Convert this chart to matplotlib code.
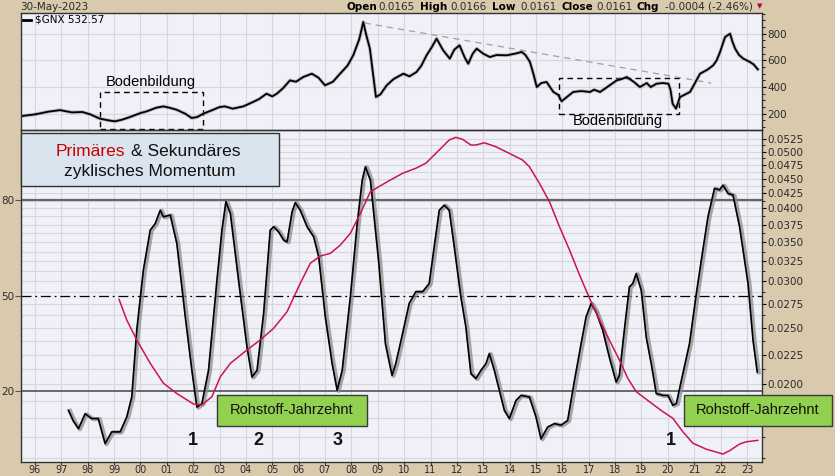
import numpy as np
import matplotlib
matplotlib.use("Agg")
import matplotlib.pyplot as plt
from matplotlib.patches import Rectangle
from matplotlib.lines import Line2D
from matplotlib.transforms import offset_copy
from matplotlib.ticker import FixedLocator, FuncFormatter

plt.rcParams['font.family'] = ['Liberation Sans', 'DejaVu Sans']

# --- data ---
gnx_years = [1995.47, 1996.0, 1996.5, 1996.95, 1997.4, 1997.8, 1998.1, 1998.46, 1998.8, 1999.03,
             1999.3, 1999.6, 2000.0, 2000.24, 2000.6, 2000.87, 2001.1, 2001.37, 2001.7, 2001.94,
             2002.15, 2002.38, 2002.7, 2003.0, 2003.2, 2003.5, 2003.9, 2004.27, 2004.5, 2004.78,
             2005.0, 2005.17, 2005.4, 2005.67, 2005.9, 2006.17, 2006.5, 2006.75, 2007.0, 2007.3,
             2007.57, 2007.85, 2008.07, 2008.3, 2008.45, 2008.55, 2008.7, 2008.93, 2009.1, 2009.34,
             2009.6, 2009.97, 2010.2, 2010.47, 2010.65, 2010.85, 2011.05, 2011.23, 2011.48, 2011.73,
             2011.9, 2012.1, 2012.3, 2012.43, 2012.6, 2012.75, 2013.0, 2013.25, 2013.5, 2013.89,
             2014.2, 2014.46, 2014.6, 2014.77, 2014.9, 2015.03, 2015.2, 2015.4, 2015.66, 2015.85,
             2015.97, 2016.2, 2016.41, 2016.7, 2017.05, 2017.2, 2017.43, 2017.7, 2018.06, 2018.25,
             2018.44, 2018.7, 2018.94, 2019.2, 2019.35, 2019.57, 2019.8, 2020.02, 2020.1, 2020.18,
             2020.31, 2020.46, 2020.84, 2021.0, 2021.22, 2021.5, 2021.72, 2021.85, 2021.98, 2022.17,
             2022.36, 2022.45, 2022.55, 2022.7, 2022.86, 2023.11, 2023.25, 2023.41]
gnx_vals = [182, 195, 215, 227, 210, 213, 195, 163, 150, 143,
            155, 175, 205, 218, 245, 255, 245, 230, 200, 168,
            175, 200, 225, 250, 255, 238, 255, 288, 310, 350,
            330, 350, 390, 450, 440, 475, 500, 470, 413, 440,
            500, 560, 638, 760, 888, 800, 688, 325, 345, 413,
            460, 500, 480, 513, 560, 638, 700, 763, 675, 613,
            680, 713, 620, 575, 650, 688, 650, 625, 640, 638,
            650, 663, 640, 588, 500, 400, 430, 438, 363, 340,
            293, 330, 363, 370, 363, 380, 363, 400, 450, 460,
            475, 440, 400, 430, 400, 425, 430, 425, 380, 275,
            238, 325, 363, 420, 500, 530, 563, 600, 663, 775,
            800, 740, 688, 640, 613, 588, 570, 533]

osc_years = [1997.27, 1997.45, 1997.65, 1997.9, 1998.15, 1998.4, 1998.66, 1998.91, 1999.23, 1999.48,
             1999.67, 1999.86, 2000.11, 2000.37, 2000.56, 2000.75, 2000.87, 2001.13, 2001.38, 2001.7,
             2001.95, 2002.14, 2002.33, 2002.58, 2002.9, 2003.09, 2003.24, 2003.41, 2003.72, 2004.04,
             2004.23, 2004.42, 2004.67, 2004.92, 2005.05, 2005.24, 2005.43, 2005.56, 2005.75, 2005.87,
             2006.06, 2006.32, 2006.57, 2006.76, 2007.01, 2007.27, 2007.46, 2007.65, 2007.96, 2008.22,
             2008.41, 2008.53, 2008.72, 2009.04, 2009.29, 2009.54, 2009.68, 2009.94, 2010.19, 2010.44,
             2010.7, 2010.95, 2011.14, 2011.33, 2011.52, 2011.71, 2011.9, 2012.15, 2012.34, 2012.53,
             2012.72, 2012.91, 2013.1, 2013.23, 2013.42, 2013.61, 2013.8, 2013.99, 2014.24, 2014.43,
             2014.75, 2015.0, 2015.19, 2015.44, 2015.7, 2015.95, 2016.2, 2016.46, 2016.71, 2016.9,
             2017.09, 2017.28, 2017.53, 2017.78, 2018.04, 2018.16, 2018.35, 2018.54, 2018.67, 2018.8,
             2018.99, 2019.18, 2019.37, 2019.56, 2019.81, 2020.0, 2020.19, 2020.32, 2020.57, 2020.82,
             2021.08, 2021.27, 2021.52, 2021.77, 2021.96, 2022.09, 2022.28, 2022.47, 2022.72, 2023.04,
             2023.23, 2023.39]
osc_vals = [13.8, 10.5, 8.0, 12.7, 11.2, 11.2, 3.3, 7.0, 7.0, 11.7,
            18.0, 39.1, 58.0, 70.6, 72.7, 76.9, 74.8, 75.4, 66.4, 43.3,
            26.4, 14.8, 15.9, 26.4, 54.8, 70.6, 79.6, 75.9, 54.8, 33.8,
            24.3, 26.4, 44.3, 70.6, 71.7, 70.1, 67.5, 66.9, 76.4, 79.3,
            76.9, 71.7, 68.5, 62.2, 43.3, 28.5, 20.1, 26.4, 49.6, 72.7,
            86.4, 90.6, 86.4, 60.1, 34.8, 24.8, 28.5, 38.0, 47.5, 51.2,
            51.2, 53.8, 65.4, 76.9, 78.5, 76.9, 65.4, 49.6, 40.1, 25.4,
            23.8, 26.4, 28.5, 31.7, 26.4, 20.1, 13.8, 11.2, 16.9, 18.5,
            18.0, 11.7, 4.8, 8.5, 9.6, 9.1, 10.6, 23.3, 34.8, 43.3,
            47.5, 44.8, 39.1, 30.6, 22.7, 24.8, 39.1, 52.7, 53.8, 56.9,
            51.7, 36.9, 28.5, 19.1, 18.5, 18.5, 15.4, 15.9, 25.4, 34.8,
            50.6, 61.2, 74.8, 83.8, 83.3, 84.8, 82.2, 81.7, 71.7, 53.8,
            35.9, 25.9]

prim_years = [1999.19, 1999.48, 1999.86, 2000.37, 2000.87, 2001.38, 2002.01, 2002.33, 2002.71, 2003.03,
              2003.41, 2004.04, 2004.54, 2005.05, 2005.56, 2006.06, 2006.44, 2006.82, 2007.2, 2007.58,
              2007.96, 2008.34, 2008.72, 2009.04, 2009.48, 2009.94, 2010.44, 2010.82, 2011.33, 2011.71,
              2011.96, 2012.22, 2012.53, 2012.72, 2013.04, 2013.48, 2013.99, 2014.49, 2014.75, 2015.13,
              2015.51, 2015.89, 2016.27, 2016.65, 2017.03, 2017.41, 2017.78, 2018.16, 2018.48, 2018.8,
              2019.3, 2019.81, 2020.19, 2020.57, 2020.95, 2021.46, 2022.09, 2022.34, 2022.72, 2022.97,
              2023.41]
prim_vals = [0.02796, 0.02578, 0.02383, 0.02174, 0.0201, 0.0193, 0.01852, 0.01845, 0.01906, 0.02062,
             0.02174, 0.02291, 0.02383, 0.02495, 0.02664, 0.02979, 0.03223, 0.03317, 0.03351, 0.03463,
             0.03626, 0.03924, 0.04272, 0.04358, 0.04474, 0.04593, 0.04685, 0.04778, 0.05034, 0.05238,
             0.05292, 0.0525, 0.05134, 0.05134, 0.0518, 0.05099, 0.04968, 0.0484, 0.04713, 0.04416,
             0.04108, 0.03722, 0.03397, 0.03078, 0.02808, 0.02578, 0.02383, 0.02203, 0.0205, 0.01944,
             0.01869, 0.01797, 0.01751, 0.0166, 0.01587, 0.0155, 0.01521, 0.01541, 0.01582, 0.01596,
             0.01605]

year_ticks = list(range(1996, 2024))
year_labels = ['%02d' % (y % 100) for y in year_ticks]
gnx_ticks = [200, 400, 600, 800]
osc_levels = [20, 50, 80]
prim_ticks = [0.0200, 0.0225, 0.0250, 0.0275, 0.0300, 0.0325, 0.0350, 0.0375,
              0.0400, 0.0425, 0.0450, 0.0475, 0.0500, 0.0525]

W, H = 835, 476
BG = '#d9caae'
PANEL = '#eff0f8'
GRID = '#d6d6dc'
TXT = '#2a2a2a'

def fx(px):
    return px / W

def fy(py):
    return 1 - py / H

fig = plt.figure(figsize=(W / 100, H / 100), dpi=100, facecolor=BG)

xl = (1995.47, 2023.57)

# ---- top panel: $GNX ----
ax1 = fig.add_axes([fx(21), fy(130), fx(762) - fx(21), fy(13) - fy(130)], facecolor=PANEL)
ax1.set_xlim(*xl)
ax1.set_ylim(78, 955)
ax1.set_xticks(year_ticks)
ax1.set_xticklabels([])
ax1.tick_params(axis='x', length=0)
ax1.yaxis.tick_right()
ax1.set_yticks(gnx_ticks)
ax1.set_yticklabels([str(v) for v in gnx_ticks], fontsize=7.5, color=TXT, family='DejaVu Sans')
ax1.yaxis.set_minor_locator(FixedLocator(list(range(100, 1000, 50))))
ax1.tick_params(axis='y', which='major', length=3, pad=1, direction='out')
ax1.tick_params(axis='y', which='minor', length=2, direction='out')
ax1.grid(True, color=GRID, lw=0.8)
ax1.set_axisbelow(True)
for s in ax1.spines.values():
    s.set_color('#333333')
    s.set_linewidth(1.0)

ax1.plot(gnx_years, gnx_vals, color='#8a8a8a', lw=2.6, alpha=0.5, solid_joinstyle='round')
ax1.plot(gnx_years, gnx_vals, color='black', lw=1.3, solid_joinstyle='round')
# falling trend line
ax1.plot([2008.5, 2021.64], [880, 430], color='#a0a0a0', lw=0.9, ls=(0, (5, 4)))
# Bodenbildung boxes
ax1.add_patch(Rectangle((1998.46, 85), 2002.38 - 1998.46, 363 - 85, fill=False,
                        ls=(0, (4, 3)), lw=1.0, ec='black'))
ax1.text(2000.4, 440, 'Bodenbildung', ha='center', va='center', fontsize=10.5, color='black')
ax1.add_patch(Rectangle((2015.88, 200), 2020.41 - 2015.88, 468 - 200, fill=False,
                        ls=(0, (4, 3)), lw=1.0, ec='black'))
ax1.text(2018.1, 148, 'Bodenbildung', ha='center', va='center', fontsize=10.5, color='black')

# legend entry
fig.add_artist(Line2D([fx(23), fx(31)], [fy(20), fy(20)], color='black', lw=2, transform=fig.transFigure))
fig.text(fx(35), fy(20), '$GNX 532.57', fontsize=7.5, family='DejaVu Sans', va='center', ha='left')

# ---- bottom panel: momentum ----
ax2 = fig.add_axes([fx(21), fy(462), fx(762) - fx(21), fy(130) - fy(462)])
ax2.set_xlim(*xl)
ax2.set_ylim(-2.5, 102.2)
ax2.set_xticks(year_ticks)
ax2.set_xticklabels(year_labels, fontsize=7, color=TXT, family='DejaVu Sans')
ax2.tick_params(axis='x', length=2, pad=0.5, direction='out', color='#333333')
ax2.set_yticks(osc_levels)
ax2.set_yticklabels([str(v) for v in osc_levels], fontsize=7.5, color=TXT, family='DejaVu Sans')
ax2.tick_params(axis='y', length=4, pad=1, direction='out', color='#555555')
ax2.grid(True, axis='x', color=GRID, lw=0.8)
ax2.set_axisbelow(True)
for s in ax2.spines.values():
    s.set_color('#333333')
    s.set_linewidth(1.0)

ax2r = ax2.twinx()
ax2r.set_yscale('log')
ax2r.set_ylim(0.01474, 0.05447)
ax2r.yaxis.set_major_locator(FixedLocator(prim_ticks))
ax2r.yaxis.set_major_formatter(FuncFormatter(lambda v, p: '%.4f' % v))
ax2r.yaxis.set_minor_locator(FixedLocator([0.015, 0.01625, 0.0175, 0.01875] +
                                          [t + 0.00125 for t in prim_ticks[:-1]]))
ax2r.yaxis.set_minor_formatter(FuncFormatter(lambda v, p: ''))
ax2r.tick_params(axis='y', which='major', labelsize=7.5, labelcolor=TXT, length=3, pad=1, direction='out')
ax2r.tick_params(axis='y', which='minor', length=2, direction='out')
for lab in ax2r.get_yticklabels():
    lab.set_family('DejaVu Sans')
ax2r.grid(True, axis='y', which='both', color=GRID, lw=0.8)
# right-axis panel sits behind the oscillator axes
ax2r.set_zorder(ax2.get_zorder() - 1)
ax2r.patch.set_visible(True)
ax2r.patch.set_facecolor(PANEL)
ax2.patch.set_visible(False)
for s in ax2r.spines.values():
    s.set_visible(False)

# reference levels
ax2.axhline(80, color='#666666', lw=1.6)
ax2.axhline(50, color='black', lw=0.9, ls=(0, (8, 3, 1.5, 3)))
ax2.axhline(20, color='#444444', lw=1.1)

# secondary momentum (black with grey shadow)
shadow = offset_copy(ax2.transData, fig=fig, x=1.5, y=-0.5, units='dots')
ax2.plot(osc_years, osc_vals, color='#8c8c8c', lw=3.0, alpha=0.75, transform=shadow,
         solid_joinstyle='round')
ax2.plot(osc_years, osc_vals, color='black', lw=1.2, solid_joinstyle='round')

# primary momentum (red, right log axis), drawn on top
ax2.plot(prim_years, prim_vals, color='#cc1450', lw=1.1, transform=ax2r.transData)

# cycle numbers
for yr, lab in [(2002.0, '1'), (2004.48, '2'), (2007.46, '3'), (2020.13, '1')]:
    ax2.text(yr, 4.3, lab, ha='center', va='center', fontsize=13, fontweight='bold', color='#111111')

# title box
fig.add_artist(Rectangle((fx(21), fy(186)), fx(279) - fx(21), fy(133) - fy(186),
                         transform=fig.transFigure, fc='#dae4ef', ec='#333333', lw=1.0))
fig.text(fx(125), fy(151), 'Primäres', ha='right', va='center', fontsize=12.5, color='#cc0000')
fig.text(fx(131), fy(151), '& Sekundäres', ha='left', va='center', fontsize=12.5, color='#111111')
fig.text(fx(150), fy(171.5), 'zyklisches Momentum', ha='center', va='center', fontsize=12.5, color='#111111')

# Rohstoff-Jahrzehnt boxes
for x0, x1 in [(217, 367), (684, 832)]:
    fig.add_artist(Rectangle((fx(x0), fy(426)), fx(x1) - fx(x0), fy(395) - fy(426),
                             transform=fig.transFigure, fc='#92d050', ec='#3a3a3a', lw=1.0))
    fig.text(fx((x0 + x1) / 2), fy(410.5), 'Rohstoff-Jahrzehnt', ha='center', va='center',
             fontsize=10.5, color='#111111')

# header
hf = 7.5
fig.text(fx(20), fy(6.5), '30-May-2023', fontsize=hf, color=TXT, family='DejaVu Sans', va='center')
hdr = [(346.7, 'Open', True), (378, '0.0165', False), (420, 'High', True), (450, '0.0166', False),
       (491.7, 'Low', True), (520, '0.0161', False), (561.7, 'Close', True), (596, '0.0161', False),
       (636.7, 'Chg', True), (665, '-0.0004 (-2.46%)', False)]
for px, s, b in hdr:
    fig.text(fx(px), fy(6.5), s, fontsize=hf, color='black' if b else TXT, family='DejaVu Sans',
             fontweight='bold' if b else 'normal', va='center', ha='left')
fig.text(fx(760), fy(6.5), '▼', fontsize=5, color='#b0003a', family='DejaVu Sans', va='center', ha='center')

fig.savefig('out.png', dpi=100, facecolor=BG)
